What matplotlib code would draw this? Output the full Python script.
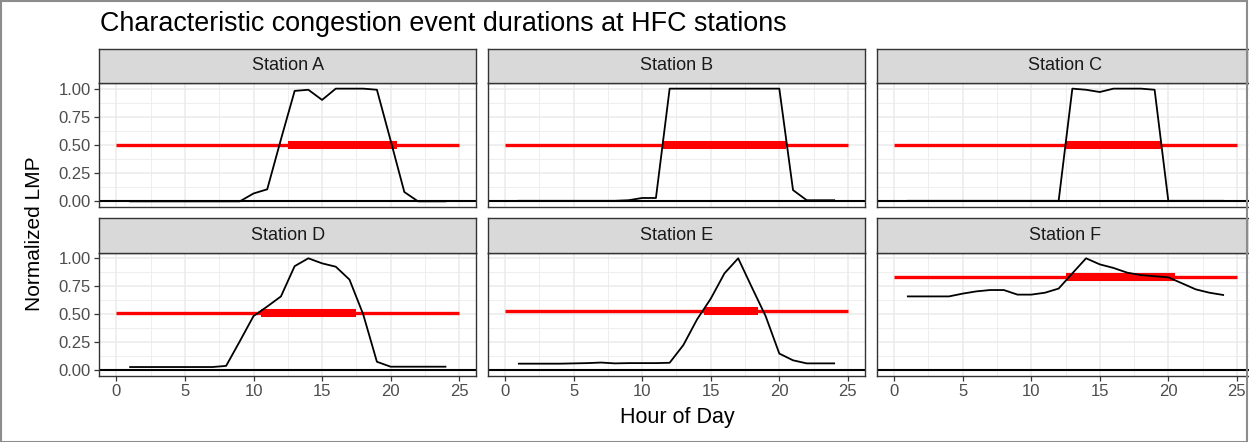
import matplotlib
matplotlib.use("Agg")
import matplotlib.pyplot as plt
from matplotlib.patches import Rectangle

plt.rcParams['font.family'] = ['Liberation Sans', 'DejaVu Sans']

hours = list(range(1, 25))

stations = ["Station A", "Station B", "Station C", "Station D", "Station E", "Station F"]

station_a = [0, 0, 0, 0, 0, 0, 0, 0, 0, 0.07, 0.107, 0.55, 0.98, 0.99, 0.90, 1.0,
             1.0, 1.0, 0.99, 0.54, 0.083, 0, 0, 0]
station_b = [0.005, 0.005, 0.005, 0.005, 0.005, 0.005, 0.005, 0.005, 0.01, 0.03, 0.03, 1.0,
             1.0, 1.0, 1.0, 1.0, 1.0, 1.0, 1.0, 1.0, 0.10, 0.01, 0.01, 0.01]
station_c = [0.005, 0.005, 0.005, 0.005, 0.005, 0.005, 0.005, 0.005, 0.005, 0.005, 0.005, 0.005,
             1.0, 0.99, 0.97, 1.0, 1.0, 1.0, 0.99, 0.005, 0.005, 0.005, 0.005, 0.005]
station_d = [0.03, 0.03, 0.03, 0.03, 0.03, 0.03, 0.03, 0.04, 0.26, 0.485, 0.57, 0.66,
             0.93, 1.0, 0.955, 0.925, 0.81, 0.5, 0.077, 0.033, 0.033, 0.033, 0.033, 0.033]
station_e = [0.06, 0.06, 0.06, 0.06, 0.0625, 0.065, 0.07, 0.0625, 0.065, 0.065, 0.065, 0.068,
             0.226, 0.455, 0.64, 0.866, 1.0, 0.74, 0.485, 0.15, 0.09, 0.0625, 0.0625, 0.0625]
station_f = [0.66, 0.66, 0.66, 0.66, 0.685, 0.705, 0.717, 0.717, 0.676, 0.676, 0.693, 0.73,
             0.866, 1.0, 0.946, 0.914, 0.872, 0.85, 0.84, 0.83, 0.777, 0.723, 0.693, 0.673]

# threshold level and characteristic event window (start, end) per station
thresholds = [0.503, 0.503, 0.503, 0.515, 0.533, 0.836]
event_start = [12.5, 11.43, 12.5, 10.53, 14.47, 12.5]
event_end = [20.45, 20.5, 19.54, 17.45, 18.48, 20.46]

series = [station_a, station_b, station_c, station_d, station_e, station_f]

W, H = 1249, 442
fig = plt.figure(figsize=(W / 100, H / 100), dpi=100)
fig.patch.set_facecolor("white")
fig.patches.append(Rectangle((0.001, 0.001), 0.997, 0.997, transform=fig.transFigure,
                             fill=False, edgecolor="#8c8c8c", linewidth=1.5))

col_left = [99.3, 488.0, 877.0]
panel_w = 377.0
rows = [(49.0, 83.0, 207.0), (218.0, 252.7, 376.0)]  # strip top, panel top, panel bottom

grid_col = "#EBEBEB"
dark = "#333333"

for i, name in enumerate(stations):
    r, c = divmod(i, 3)
    st, pt, pb = rows[r]
    x0 = col_left[c]
    ax = fig.add_axes([x0 / W, 1 - pb / H, panel_w / W, (pb - pt) / H])
    sax = fig.add_axes([x0 / W, 1 - pt / H, panel_w / W, (pt - st) / H])

    # strip
    sax.set_facecolor("#D9D9D9")
    sax.set_xticks([])
    sax.set_yticks([])
    for s in sax.spines.values():
        s.set_color(dark)
        s.set_linewidth(1.0)
    sax.text(0.5, 0.5, name, ha="center", va="center", fontsize=13, color="#1A1A1A",
             transform=sax.transAxes)

    # panel
    ax.set_xlim(-1.25, 26.25)
    ax.set_ylim(-0.05, 1.05)
    ax.set_xticks([0, 5, 10, 15, 20, 25])
    ax.set_xticks([2.5, 7.5, 12.5, 17.5, 22.5], minor=True)
    ax.set_yticks([0, 0.25, 0.5, 0.75, 1.0])
    ax.set_yticks([0.125, 0.375, 0.625, 0.875], minor=True)
    ax.grid(which="major", color=grid_col, linewidth=1.1)
    ax.grid(which="minor", color=grid_col, linewidth=0.6)
    ax.set_axisbelow(True)
    for s in ax.spines.values():
        s.set_color(dark)
        s.set_linewidth(1.0)
    ax.tick_params(which="minor", length=0)
    ax.tick_params(which="major", color=dark, length=3.5, width=0.9,
                   labelcolor="#4D4D4D", labelsize=12, pad=2.5)
    if c == 0:
        ax.set_yticklabels(["0.00", "0.25", "0.50", "0.75", "1.00"])
    else:
        ax.tick_params(axis="y", which="major", length=0, labelleft=False)
    if r == 1:
        ax.set_xticklabels(["0", "5", "10", "15", "20", "25"])
    else:
        ax.tick_params(axis="x", which="major", length=0, labelbottom=False)

    ax.axhline(0, color="black", linewidth=1.5, zorder=2)
    ax.plot([0, 25], [thresholds[i], thresholds[i]], color="red", linewidth=2.4,
            solid_capstyle="butt", zorder=3)
    ax.plot([event_start[i], event_end[i]], [thresholds[i], thresholds[i]], color="red",
            linewidth=5.8, solid_capstyle="butt", zorder=4)
    ax.plot(hours, series[i], color="black", linewidth=1.3, zorder=5)

fig.text(100 / W, 1 - 24 / H, "Characteristic congestion event durations at HFC stations",
         fontsize=19.4, color="black", ha="left", va="center")
fig.text(677 / W, 1 - 418 / H, "Hour of Day", fontsize=15.5, color="black",
         ha="center", va="center")
fig.text(35 / W, 1 - 234 / H, "Normalized LMP", fontsize=15, color="black",
         ha="center", va="center", rotation=90)

fig.savefig("out.png", dpi=100)
